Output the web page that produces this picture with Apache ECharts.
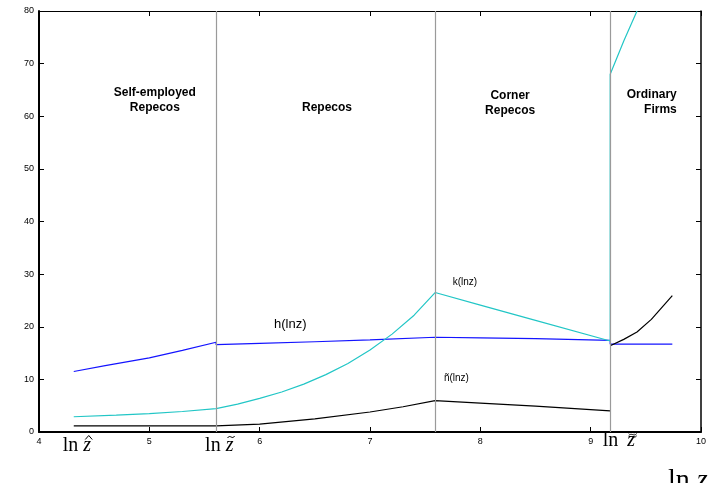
<!DOCTYPE html>
<html>
<head>
<meta charset="utf-8">
<script src="https://cdn.jsdelivr.net/npm/echarts@6/dist/echarts.min.js"></script>
<style>
  html, body { margin: 0; padding: 0; background: #fff; }
  #chart { width: 719px; height: 483px; }
</style>
</head>
<body>
<div id="chart"></div>
<script>
// Thresholds on ln z separating the four regimes
var thresholds = [5.605, 7.59, 9.177];
var thresholdStarts = [4.315, 5.605, 9.177];
var regimeNames = ['Self-employed\nRepecos', 'Repecos', 'Corner\nRepecos', 'Ordinary\nFirms'];

// h(ln z)
var hLine = [
  [4.315, 11.5], [4.6, 12.6], [5.0, 14.1], [5.3, 15.5], [5.605, 17.05],
  [5.605, 16.6], [6.0, 16.85], [6.5, 17.15], [7.0, 17.5], [7.59, 18.0],
  [8.0, 17.9], [8.5, 17.75], [9.177, 17.4],
  [9.177, 16.7], [9.74, 16.7]
];

// k(ln z)
var kLine = [
  [4.315, 2.9], [4.7, 3.2], [5.0, 3.5], [5.3, 3.9], [5.605, 4.45],
  [5.8, 5.3], [6.0, 6.4], [6.2, 7.6], [6.4, 9.1], [6.6, 10.9], [6.8, 13.0],
  [7.0, 15.6], [7.2, 18.6], [7.4, 22.2], [7.59, 26.5],
  [8.0, 24.1], [8.5, 21.2], [9.177, 17.3],
  [9.177, 68.0], [9.3, 74.3], [9.42, 80.0]
];

// ñ(ln z), below and above the last threshold
var nLow = [
  [4.315, 1.15], [5.605, 1.15], [6.0, 1.5], [6.5, 2.5], [7.0, 3.8], [7.3, 4.8], [7.59, 5.97],
  [8.0, 5.5], [8.5, 4.9], [9.177, 4.0]
];
var nHigh = [
  [9.177, 16.4], [9.3, 17.6], [9.42, 19.0], [9.55, 21.4], [9.74, 25.9]
];

var xTicks = { min: 4, max: 10, step: 1 };
var yTicks = { min: 0, max: 80, step: 10 };

var BLUE = '#1414ff';
var CYAN = '#22c6c6';
var GRID_LEFT = 39, GRID_TOP = 11, GRID_RIGHT = 18, GRID_BOTTOM = 51;

var chart = echarts.init(document.getElementById('chart'), null, { renderer: 'canvas' });

function axisCommon(pos, showLabels, lineW) {
  return {
    type: 'value',
    position: pos,
    axisLine: { show: true, onZero: false, lineStyle: { color: '#000', width: lineW } },
    axisTick: { show: true, inside: true, length: 5, lineStyle: { color: '#000', width: 1 } },
    axisLabel: {
      show: showLabels, color: '#000', fontFamily: 'Liberation Sans', fontSize: 9, margin: 5
    },
    splitLine: { show: false }
  };
}

var xBottom = Object.assign(axisCommon('bottom', true, 2), { min: xTicks.min, max: xTicks.max, interval: xTicks.step });
var xTop = Object.assign(axisCommon('top', false, 1.2), { min: xTicks.min, max: xTicks.max, interval: xTicks.step });
var yLeft = Object.assign(axisCommon('left', true, 2), { min: yTicks.min, max: yTicks.max, interval: yTicks.step });
var yRight = Object.assign(axisCommon('right', false, 1.5), { min: yTicks.min, max: yTicks.max, interval: yTicks.step });

function lineSeries(data, color) {
  return {
    type: 'line', data: data, xAxisIndex: 0, yAxisIndex: 0,
    showSymbol: false, symbol: 'none', smooth: false, clip: true, silent: true,
    lineStyle: { color: color, width: 1.2 }, z: 3
  };
}

chart.setOption({
  animation: false,
  backgroundColor: '#fff',
  grid: { left: GRID_LEFT, top: GRID_TOP, right: GRID_RIGHT, bottom: GRID_BOTTOM, containLabel: false },
  xAxis: [xBottom, xTop],
  yAxis: [yLeft, yRight],
  series: [
    {
      type: 'line', data: [], xAxisIndex: 0, yAxisIndex: 0, silent: true, z: 1,
      markLine: {
        silent: true, symbol: 'none', animation: false,
        label: { show: false },
        lineStyle: { color: '#9a9a9a', width: 1.2, type: 'solid' },
        data: thresholds.map(function (t) { return { xAxis: t }; })
      }
    },
    lineSeries(hLine, BLUE),
    lineSeries(kLine, CYAN),
    lineSeries(nLow, '#000'),
    lineSeries(nHigh, '#000')
  ]
});

function px(x, y) { return chart.convertToPixel({ gridIndex: 0 }, [x, y]); }

var graphics = [];

// Regime titles
var regimeStyle = { fontFamily: 'Liberation Sans', fontSize: 12, fontWeight: 'bold', fill: '#000', lineHeight: 15 };
var regimeAnchors = [
  { x: 5.05, y: 65.9, align: 'center' },
  { x: 6.61, y: 63.1, align: 'center' },
  { x: 8.27, y: 65.3, align: 'center' },
  { x: 9.78, y: 65.6, align: 'right' }
];
regimeNames.forEach(function (name, i) {
  var a = regimeAnchors[i];
  var p = px(a.x, a.y);
  graphics.push({
    type: 'text', x: p[0], y: p[1], silent: true,
    style: Object.assign({ text: name, align: a.align, verticalAlign: 'top' }, regimeStyle)
  });
});

// Curve names
var curveLabels = [
  { text: 'h(lnz)', x: 6.13, y: 20.5, size: 13 },
  { text: 'k(lnz)', x: 7.75, y: 28.5, size: 10 },
  { text: 'ñ(lnz)', x: 7.67, y: 10.3, size: 10 }
];
curveLabels.forEach(function (c) {
  var p = px(c.x, c.y);
  graphics.push({
    type: 'text', x: p[0], y: p[1], silent: true,
    style: { text: c.text, fontFamily: 'Liberation Sans', fontSize: c.size, fill: '#000', verticalAlign: 'middle' }
  });
});

// Accent strokes drawn over the z of each threshold name
var STROKE = { stroke: '#000', lineWidth: 1, fill: null };
function hat(cx, cy) {
  return { type: 'polyline', silent: true, shape: { points: [[cx - 3.5, cy + 2], [cx, cy - 2], [cx + 3.5, cy + 2]] }, style: STROKE };
}
function tilde(cx, cy, w, amp) {
  var h = w / 2;
  return {
    type: 'bezierCurve', silent: true,
    shape: { x1: cx - h, y1: cy + 1, cpx1: cx - h / 3, cpy1: cy - amp, cpx2: cx + h / 3, cpy2: cy + amp, x2: cx + h, y2: cy - 1 },
    style: STROKE
  };
}

var labelMids = [445.5, 445.5, 440.5];
var zShift = [0, 0, 4];
thresholdStarts.forEach(function (t, i) {
  var p = px(t, 0);
  var left = p[0] - 11 + (i === 2 ? 3.5 : 0);
  var mid = labelMids[i];
  graphics.push({
    type: 'text', x: left, y: mid, silent: true,
    style: {
      text: '{a|ln }{z|z}',
      verticalAlign: 'middle',
      rich: {
        a: { fontFamily: 'Liberation Serif', fontSize: 20, fill: '#000' },
        z: { fontFamily: 'Liberation Serif', fontStyle: 'italic', fontSize: 20, fill: '#000', padding: [0, 0, 0, zShift[i]] }
      }
    }
  });
  var cx = left + 26 + zShift[i];
  if (i === 0) {
    graphics.push(hat(cx, mid - 8));
  } else if (i === 1) {
    graphics.push(tilde(cx, mid - 8.5, 7, 3.2));
  } else {
    [-2.2, 0, 2.2].forEach(function (d) { graphics.push(tilde(cx, 434.6 + d, 8, 2.4)); });
  }
});

// Axis title
graphics.push({
  type: 'text', x: 668, y: 480.5, silent: true,
  style: {
    text: '{a|ln }{z|z}',
    verticalAlign: 'middle',
    rich: {
      a: { fontFamily: 'Liberation Serif', fontSize: 28, fill: '#000' },
      z: { fontFamily: 'Liberation Serif', fontStyle: 'italic', fontSize: 28, fill: '#000' }
    }
  }
});

chart.setOption({ graphic: graphics });
</script>
</body>
</html>
